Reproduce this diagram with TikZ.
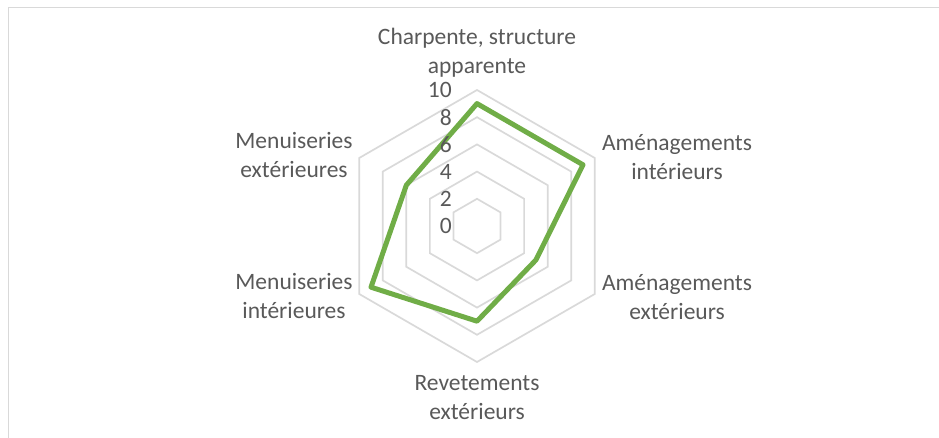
\documentclass[tikz,border=0pt]{standalone}
\usepackage{fontspec}
\setmainfont{Carlito}
\usetikzlibrary{positioning,calc}
\definecolor{gridgray}{HTML}{D9D9D9}
\definecolor{labelgray}{HTML}{595959}
\definecolor{seriesgreen}{HTML}{70AD47}

\begin{document}
\begin{tikzpicture}[x=1pt,y=1pt,
  lbl/.style={text=labelgray, font=\fontsize{23.5}{29}\selectfont, align=center, inner sep=0pt},
  tick/.style={text=labelgray, font=\fontsize{23.5}{29}\selectfont, anchor=east, inner sep=0pt},
  ring/.style={draw=gridgray, line width=1.7pt},
  series/.style={draw=seriesgreen, line width=5pt, line join=round}]
\useasboundingbox (0,0) rectangle (939,438);
% frame
\draw[gridgray, line width=1.5pt] (8.5,0) -- (8.5,430.5) -- (939,430.5);

\coordinate (c) at (477,212);

% rings
\foreach \v [evaluate=\v as \rr using \v*13.6] in {2,4,...,10}
  \draw[ring, shift={(c)}] (90:\rr) -- (30:\rr) -- (-30:\rr) -- (-90:\rr) -- (210:\rr) -- (150:\rr) -- cycle;

% series
\draw[series, shift={(c)}] (90:{9*13.6}) -- (30:{9*13.6}) -- (-30:{5*13.6}) -- (-90:{7*13.6}) -- (210:{9*13.6}) -- (150:{6*13.6}) -- cycle;

% tick labels
\foreach \v in {0,2,...,10}
  \node[tick] (t\v) at (452,{212+\v*13.6}) {\v};

% axis labels
\node[lbl] (charp) at (477,385.5) {Charpente, structure\\apparente};
\node[lbl] (amint) at (677,281.3) {Aménagements\\intérieurs};
\node[lbl] (amext) at (677,140.5) {Aménagements\\extérieurs};
\node[lbl] (revet) at (477,40.5) {Revetements\\extérieurs};
\node[lbl] (menint) at (294,142) {Menuiseries\\intérieures};
\node[lbl] (menext) at (294,283) {Menuiseries\\extérieures};
\end{tikzpicture}
\end{document}
